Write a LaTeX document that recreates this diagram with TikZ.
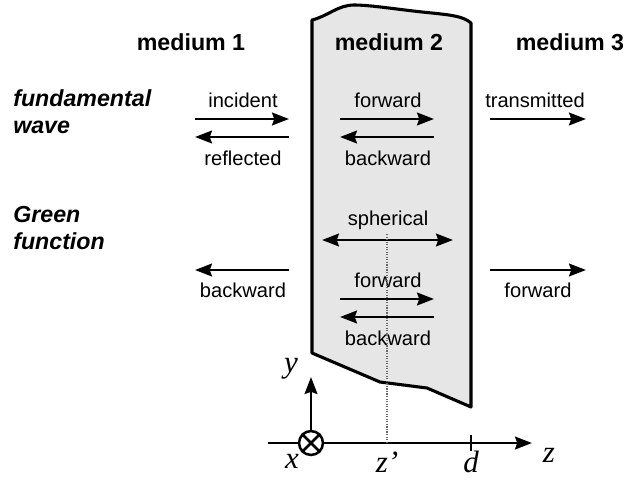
\documentclass[tikz,border=0pt]{standalone}
\usepackage{fontspec}
\setmainfont{Liberation Sans}
\newfontfamily\axisfont{Liberation Serif}
\usetikzlibrary{arrows.meta, positioning}
\definecolor{slabgray}{RGB}{230,230,230}

\begin{document}
\begin{tikzpicture}[
      x=0.025cm, y=-0.025cm,
      >={Stealth[length=12pt,width=9pt,inset=1.5pt]},
      wave/.style={->, line width=2pt},
      medlabel/.style={font=\fontsize{16.5}{18}\selectfont\bfseries},
      kindlabel/.style={font=\fontsize{16.5}{18.5}\selectfont\bfseries\itshape, align=left, anchor=base west, inner sep=0pt},
      wavelabel/.style={font=\fontsize{14.3}{16}\selectfont, anchor=base},
      axislabel/.style={font=\fontsize{22}{22}\axisfont\itshape}
      ]

      \useasboundingbox (0,0) rectangle (644,481);

      % the slab (medium 2)
      \draw[fill=slabgray, line width=2.2pt, line join=round]
        (312,353) -- (312,20) .. controls (328,16) and (338,5) .. (354,5)
        .. controls (372,5) and (400,10) .. (432,13)
        .. controls (450,15) and (463,16) .. (471,23)
        -- (471,407) -- (427,388) -- (380,382) -- cycle;

      % media
      \node[medlabel] (med1) at (191,42) {medium 1};
      \node[medlabel] (med2) at (389,42) {medium 2};
      \node[medlabel] (med3) at (570,42) {medium 3};

      \node[kindlabel] (fund)  at (13,133) {fundamental\\wave};
      \node[kindlabel] (green) at (13,249) {Green\\function};

      % fundamental wave
      \coordinate (inc_a) at (195,119);  \coordinate (inc_b) at (289,119);
      \coordinate (ref_a) at (289,137);  \coordinate (ref_b) at (195,137);
      \coordinate (fw_a)  at (340,119);  \coordinate (fw_b)  at (434,119);
      \coordinate (bw_a)  at (434,137);  \coordinate (bw_b)  at (340,137);
      \coordinate (tr_a)  at (490,119);  \coordinate (tr_b)  at (586,119);
      \draw[wave] (inc_a) -- (inc_b);
      \draw[wave] (ref_a) -- (ref_b);
      \draw[wave] (fw_a) -- (fw_b);
      \draw[wave] (bw_a) -- (bw_b);
      \draw[wave] (tr_a) -- (tr_b);
      \node[wavelabel] (inc) at (243,107) {incident};
      \node[wavelabel] (ref) at (243,165) {reflected};
      \node[wavelabel] (fw)  at (388,107) {forward};
      \node[wavelabel] (bw)  at (388,165) {backward};
      \node[wavelabel] (tr)  at (535,107) {transmitted};

      % Green function
      \coordinate (sph_a) at (322,240);  \coordinate (sph_b) at (453,240);
      \coordinate (gbl_a) at (289,270);  \coordinate (gbl_b) at (195,270);
      \coordinate (gfr_a) at (490,270);  \coordinate (gfr_b) at (586,270);
      \coordinate (gfw_a) at (340,299);  \coordinate (gfw_b) at (434,299);
      \coordinate (gbw_a) at (434,317);  \coordinate (gbw_b) at (340,317);
      \draw[wave, <->] (sph_a) -- (sph_b);
      \draw[wave] (gbl_a) -- (gbl_b);
      \draw[wave] (gfr_a) -- (gfr_b);
      \draw[wave] (gfw_a) -- (gfw_b);
      \draw[wave] (gbw_a) -- (gbw_b);
      \node[wavelabel] (sph) at (388,225) {spherical};
      \node[wavelabel] (gbl) at (243,297) {backward};
      \node[wavelabel] (gfr) at (538,297) {forward};
      \node[wavelabel] (gfw) at (388,287) {forward};
      \node[wavelabel] (gbw) at (388,345) {backward};

      % axes
      \coordinate (zstart) at (268,443);
      \coordinate (zend)   at (532,443);
      \coordinate (yend)   at (311,377);
      \coordinate (zsrc)   at (387,443);
      \coordinate (dpos)   at (471,443);
      \draw[wave] (zstart) -- (zend);
      \node[draw, circle, line width=1.8pt, fill=white, minimum size=17pt, inner sep=0pt] (xax) at (311,443) {};
      \draw[line width=1.8pt] (xax.north west) -- (xax.south east);
      \draw[line width=1.8pt] (xax.north east) -- (xax.south west);
      \draw[wave] (xax.north) -- (yend);
      \draw[line width=1.8pt] (dpos) ++(0,-8) -- ++(0,16);
      \draw[gray!80!black, densely dotted, line width=0.8pt] (387,234) -- (zsrc);

      \node[axislabel] (xlab) at (292,461) {x};
      \node[axislabel] (ylab) at (291,369) {y};
      \node[axislabel] (zplab) at (387,462) {z’};
      \node[axislabel] (dlab) at (471,462) {d};
      \node[axislabel] (zlab) at (549,455) {z};
    \end{tikzpicture}
\end{document}
